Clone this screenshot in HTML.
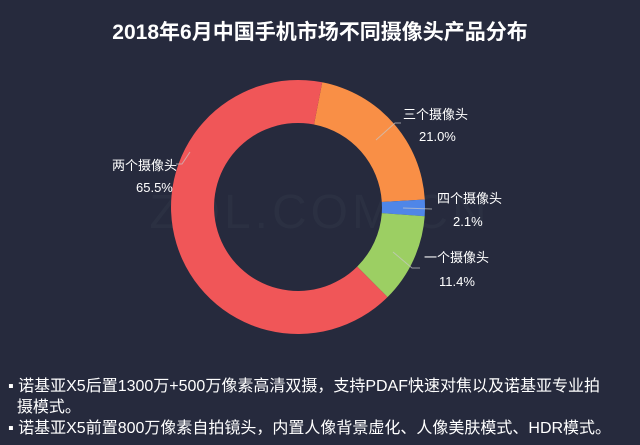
<!DOCTYPE html>
<html><head><meta charset="utf-8"><style>
html,body{margin:0;padding:0;background:#262a3d;}
body{width:640px;height:445px;overflow:hidden;position:relative;font-family:"Liberation Sans","Noto Sans CJK SC",sans-serif;color:#fff;}
.t{position:absolute;left:0;width:640px;top:16px;text-align:center;font-size:21px;font-weight:bold;}
.b{position:absolute;left:8px;font-size:16px;line-height:21px;width:630px;white-space:nowrap;}
</style></head><body>
<div class="t">2018年6月中国手机市场不同摄像头产品分布</div>
<svg width="640" height="445" style="position:absolute;left:0;top:0">
<text x="320" y="228" font-size="48" fill="#2b3042" text-anchor="middle" font-family="Liberation Sans" letter-spacing="4">ZOL.COM.CN</text>
<path d="M322.2,82.3 A127,127 0 0 1 424.8,199.5 L381.8,202.0 A84,84 0 0 0 314.0,124.5Z" fill="#f98f46"/>
<path d="M424.8,199.5 A127,127 0 0 1 424.7,216.3 L381.8,213.1 A84,84 0 0 0 381.8,202.0Z" fill="#4f86e8"/>
<path d="M424.7,216.3 A127,127 0 0 1 387.5,297.1 L357.2,266.6 A84,84 0 0 0 381.8,213.1Z" fill="#9ccf63"/>
<path d="M387.5,297.1 A127,127 0 1 1 322.2,82.3 L314.0,124.5 A84,84 0 1 0 357.2,266.6Z" fill="#f05658"/>
<g stroke="#c8c8c8" stroke-width="1" fill="none" opacity="0.7">
<polyline points="376,140 395,123 401,123"/>
<polyline points="403,208 432,209"/>
<polyline points="393,252 412,268 420,268"/>
<polyline points="190,152 182,164 176,164"/>
</g>
<g font-size="13" fill="#fff">
<text x="403" y="119">三个摄像头</text>
<text x="419" y="141">21.0%</text>
<text x="437" y="203">四个摄像头</text>
<text x="453" y="226">2.1%</text>
<text x="424" y="262">一个摄像头</text>
<text x="439" y="286">11.4%</text>
<text x="112" y="170">两个摄像头</text>
<text x="136" y="192">65.5%</text>
</g>
</svg>
<div class="b" style="top:376px">▪ 诺基亚X5后置1300万+500万像素高清双摄，支持PDAF快速对焦以及诺基亚专业拍<br>&nbsp;&nbsp;摄模式。</div>
<div class="b" style="top:418px">▪ 诺基亚X5前置800万像素自拍镜头，内置人像背景虚化、人像美肤模式、HDR模式。</div>
</body></html>
